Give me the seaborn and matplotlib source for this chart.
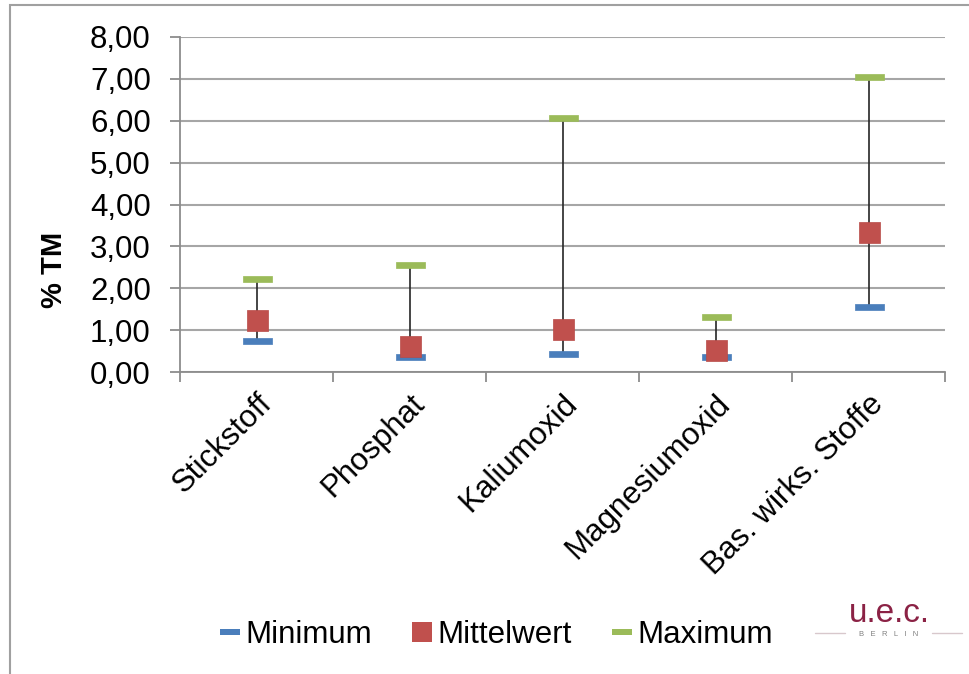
import numpy as np
import pandas as pd
import seaborn as sb
import matplotlib.pyplot as plt
from matplotlib.path import Path
from matplotlib.lines import Line2D
from matplotlib.patches import Rectangle

# chart data
categories = ["Stickstoff", "Phosphat", "Kaliumoxid", "Magnesiumoxid", "Bas. wirks. Stoffe"]
minimum = [0.74, 0.36, 0.43, 0.36, 1.55]
mittelwert = [1.24, 0.62, 1.03, 0.52, 3.34]
maximum = [2.22, 2.55, 6.06, 1.31, 7.04]
yticks = [0, 1, 2, 3, 4, 5, 6, 7, 8]
ytick_labels = ["0,00", "1,00", "2,00", "3,00", "4,00", "5,00", "6,00", "7,00", "8,00"]

df = pd.DataFrame({"cat": categories, "Minimum": minimum,
                   "Mittelwert": mittelwert, "Maximum": maximum})

# colors
blue = "#4A7EBB"
red = "#C0504D"
green = "#9BBB59"
gridcolor = "#A6A6A6"
axiscolor = "#8C8C8C"

sb.set_theme(style="white")
plt.rcParams['font.family'] = ['Liberation Sans', 'DejaVu Sans']
plt.rcParams['text.color'] = "#000000"

fig = plt.figure(figsize=(9.69, 6.74), dpi=100)
ax = fig.add_axes([180/969, 1-372/674, 765/969, 335/674])

# dash marker (flat bar)
dash = Path([(-14.5, -3.5), (14.5, -3.5), (14.5, 3.5), (-14.5, 3.5), (-14.5, -3.5)],
            [Path.MOVETO, Path.LINETO, Path.LINETO, Path.LINETO, Path.CLOSEPOLY])

# hi-lo lines
ax.vlines(df["cat"], df["Minimum"], df["Maximum"], color="#262626", lw=1.2, zorder=2)

sb.scatterplot(data=df, x="cat", y="Minimum", marker=dash, s=(29*0.72)**2,
               color=blue, edgecolor=blue, linewidth=0.5, ax=ax, zorder=3)
sb.scatterplot(data=df, x="cat", y="Maximum", marker=dash, s=(29*0.72)**2,
               color=green, edgecolor=green, linewidth=0.5, ax=ax, zorder=3)
sb.scatterplot(data=df, x="cat", y="Mittelwert", marker="s", s=(21*0.72)**2,
               color=red, edgecolor="#B84A47", linewidth=0.5, ax=ax, zorder=4)

# axes
ax.set_xlim(-0.5, len(categories)-0.5)
ax.set_ylim(0, 8)
ax.set_yticks(yticks)
ax.set_yticklabels(ytick_labels)
ax.yaxis.grid(True, color=gridcolor, lw=1.5)
ax.set_axisbelow(True)
for b in ['top', 'right']:
    ax.spines[b].set_visible(False)
for b in ['left', 'bottom']:
    ax.spines[b].set_color(axiscolor)
    ax.spines[b].set_linewidth(1.3)

ax.tick_params(axis='y', which='major', left=True, length=7, width=1.3, color=axiscolor,
               pad=14, labelsize=22.5, labelcolor="#000000")
ax.set_xticks(range(len(categories)))
ax.set_xticks(np.arange(-0.5, len(categories), 1), minor=True)
ax.tick_params(axis='x', which='major', length=0, pad=12)
ax.tick_params(axis='x', which='minor', bottom=True, length=7, width=1.3, color=axiscolor)
ax.set_xticklabels(categories, rotation=45, ha='right', va='top', rotation_mode='anchor',
                   fontsize=22.5, color="#000000")

ax.set_xlabel("")
ax.set_ylabel("% TM", fontsize=21, fontweight='bold', color="#000000")
ax.yaxis.set_label_coords(-0.146, 0.304)

# legend
handles = [
    Line2D([], [], ls='none', marker=dash, markersize=15, color=blue, markeredgewidth=0),
    Line2D([], [], ls='none', marker='s', markersize=15, color=red, markeredgewidth=0),
    Line2D([], [], ls='none', marker=dash, markersize=15, color=green, markeredgewidth=0),
]
leg = fig.legend(handles, ["Minimum", "Mittelwert", "Maximum"], ncol=3, frameon=False,
                 loc='center', bbox_to_anchor=(497/969, 1-635/674), fontsize=22.5,
                 handlelength=0.6, handletextpad=0.2, columnspacing=1.3)
for text in leg.get_texts():
    text.set_color("#000000")

# outer border
fig.add_artist(Rectangle((10/969, -0.1), 1.2, 1-5/674+0.1, transform=fig.transFigure,
                         fill=False, edgecolor="#A0A0A0", lw=1.5))

# logo
fig.text(889/969, 1-614/674, "u.e.c.", color="#8B2245", fontsize=24, ha='center', va='center',
         family=['Liberation Sans Narrow', 'Liberation Sans'])
fig.add_artist(Line2D([815/969, 845/969], [1-633/674]*2, transform=fig.transFigure,
                      color="#D8C8CC", lw=1))
fig.add_artist(Line2D([932/969, 962/969], [1-633/674]*2, transform=fig.transFigure,
                      color="#D8C8CC", lw=1))
fig.text(889/969, 1-634/674, "B   E   R   L   I   N", color="#808080", fontsize=5.5,
         ha='center', va='center')

plt.savefig("out.png", dpi=100)
